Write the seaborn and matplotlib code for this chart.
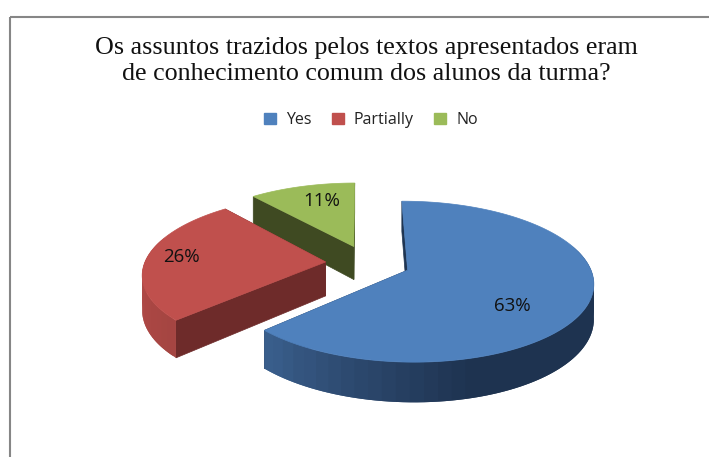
import numpy as np
import seaborn as sns
import matplotlib.pyplot as plt
from matplotlib.patches import Rectangle

# ---------------------------
# Data
# ---------------------------
labels = ["Yes", "Partially", "No"]
values = [63, 26, 11]
title = "Os assuntos trazidos pelos textos apresentados eram\nde conhecimento comum dos alunos da turma?"

top_colors = ["#4F81BD", "#C0504D", "#9BBB59"]
cut_colors = ["#1F3552", "#6E2B2A", "#3F4A22"]
# outer wall shading, from the left side of the pie towards the right
arc_colors = [["#446FA3", "#2F4D74", "#1E3350", "#1E3350"],
              ["#AE4845", "#95403C", "#8A3835", "#8A3835"],
              ["#7A9446", "#7A9446", "#7A9446", "#7A9446"]]

# pie geometry in pixels
cx, cy = 368, 263
rx, ry = 181, 76.8
persp = 0.141
depth = 34
explode = 0.235
start_deg = -0.3
label_pos = [(512, 306), (181, 257), (322, 201)]


def project(u, v, drop=0.0):
    s = 1 / (1 + persp * v)
    return cx + rx * u * s, cy - ry * v * s + drop * s


def ring(a0, a1, du, dv, drop=0.0, n=120):
    ang = np.radians(np.linspace(a0, a1, n))
    return project(du + np.sin(ang), dv + np.cos(ang), drop)


# ---------------------------
# Visualization
# ---------------------------
sns.set_theme(style="white")
plt.rcParams["font.family"] = ["Open Sans", "DejaVu Sans"]

fig = plt.figure(figsize=(7.09, 4.57), dpi=100)
ax = fig.add_axes([0, 0, 1, 1])
ax.set_xlim(0, 709)
ax.set_ylim(457, 0)
ax.axis("off")

ax.add_patch(Rectangle((10, 17), 720, 470, fill=False, ec="#868686", lw=1.5))

edges = start_deg + np.cumsum([0] + values) * 3.6

# back slice first, so the nearer ones cover it
for i in [2, 1, 0]:
    a0, a1 = edges[i], edges[i + 1]
    mid = np.radians((a0 + a1) / 2)
    du, dv = explode * np.sin(mid), explode * np.cos(mid)
    ax0, ay0 = project(du, dv)
    bx0, by0 = project(du, dv, depth)

    # flat cut walls
    for a in (a0, a1):
        ex, ey = ring(a, a, du, dv, n=1)
        fx, fy = ring(a, a, du, dv, depth, n=1)
        ax.fill([ax0, ex[0], fx[0], bx0], [ay0, ey[0], fy[0], by0],
                color=cut_colors[i], lw=0.5)

    # outer wall, cut into small strips for the shading; each strip overlaps the next
    shades = sns.blend_palette(arc_colors[i], 60)
    steps = np.linspace(a0, a1, 61)
    order = np.argsort(np.sin(np.radians(steps[:-1])))
    gap = steps[1] - steps[0]
    for k in order:
        a = steps[k]
        if np.cos(np.radians(a + gap / 2)) > 0.3:
            continue
        b = min(a + 2 * gap, a1)
        tx, ty = ring(a, b, du, dv, n=5)
        lx, ly = ring(b, a, du, dv, depth, n=5)
        m = (np.sin(np.radians(a + gap / 2)) + 1) / 2
        ax.fill(np.r_[tx, lx], np.r_[ty, ly], color=shades[min(int(m * 60), 59)], lw=0)

    tx, ty = ring(a0, a1, du, dv, n=200)
    ax.fill(np.r_[ax0, tx], np.r_[ay0, ty], color=top_colors[i], lw=0.5)

for v, pos in zip(values, label_pos):
    ax.text(pos[0], pos[1], f"{v}%", ha="center", va="center", fontsize=13.5, color="#111111")

ax.text(366, 61, title, ha="center", va="center", fontsize=18.7, family="Liberation Serif",
        linespacing=1.2, color="#111111")

handles = [Rectangle((0, 0), 1, 1, color=c) for c in top_colors]
ax.legend(handles, labels, ncol=3, loc="center", bbox_to_anchor=(371 / 709, 1 - 120 / 457),
          frameon=False, fontsize=11.5, handlelength=0.75, handleheight=0.75,
          handletextpad=0.6, columnspacing=1.3, labelcolor="#222222")

# ---------------------------
# Save chart
# ---------------------------
plt.savefig("out.png", dpi=100)
plt.close()
